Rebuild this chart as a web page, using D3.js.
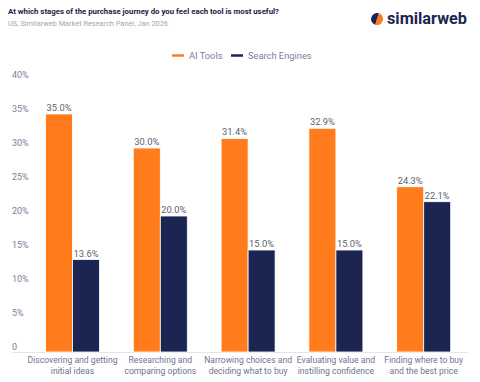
<!DOCTYPE html>
<html>
<head>
<meta charset="utf-8">
<script src="https://cdn.jsdelivr.net/npm/d3@7"></script>
<style>
  body { margin: 0; background: #fff; }
  text { font-family: Roboto, "Noto Sans", sans-serif; }
</style>
</head>
<body>
<div class="chart"></div>
<script>
var stages = [
  ["Discovering and getting", "initial ideas"],
  ["Researching and", "comparing options"],
  ["Narrowing choices and", "deciding what to buy"],
  ["Evaluating value and", "instilling confidence"],
  ["Finding where to buy", "and the best price"]
];
var seriesNames = ["AI Tools", "Search Engines"];
var aiTools = [35.0, 30.0, 31.4, 32.9, 24.3];
var searchEngines = [13.6, 20.0, 15.0, 15.0, 22.1];
var yTicks = [0, 5, 10, 15, 20, 25, 30, 35, 40];

var colors = ["#ff7b1c", "#1c2452"];
var svgWidth = 480;
var svgHeight = 382;

var svg = d3.select(".chart")
  .append("svg")
  .attr("width", svgWidth)
  .attr("height", svgHeight);

// header
svg.append("text")
  .attr("x", 8).attr("y", 14)
  .attr("font-size", 7.5)
  .attr("font-weight", 700)
  .attr("fill", "#1c2140")
  .attr("textLength", 271)
  .attr("lengthAdjust", "spacingAndGlyphs")
  .text("At which stages of the purchase journey do you feel each tool is most useful?");

svg.append("text")
  .attr("x", 8).attr("y", 26)
  .attr("font-size", 7.5)
  .attr("fill", "#a3a6b4")
  .attr("textLength", 160)
  .attr("lengthAdjust", "spacingAndGlyphs")
  .text("US, Similarweb Market Research Panel, Jan 2026");

// logo
var logo = svg.append("g").attr("transform", "translate(377, 19)");
logo.append("path")
  .attr("d", d3.arc()({innerRadius: 0, outerRadius: 6, startAngle: Math.PI * 0.1, endAngle: Math.PI * 1.1}))
  .attr("fill", colors[0]);
logo.append("path")
  .attr("d", d3.arc()({innerRadius: 0, outerRadius: 6, startAngle: Math.PI * 1.1, endAngle: Math.PI * 2.1}))
  .attr("fill", colors[1]);
logo.append("text")
  .attr("x", 10).attr("y", 5)
  .attr("font-size", 16)
  .attr("font-weight", 700)
  .attr("fill", "#1c2452")
  .attr("textLength", 80)
  .attr("lengthAdjust", "spacingAndGlyphs")
  .text("similarweb");

// legend
var legendX = [172, 231];
seriesNames.forEach(function(name, i) {
  svg.append("line")
    .attr("x1", legendX[i]).attr("x2", legendX[i] + 12)
    .attr("y1", 55.5).attr("y2", 55.5)
    .attr("stroke", colors[i])
    .attr("stroke-width", 2.5);
  svg.append("text")
    .attr("x", legendX[i] + 17).attr("y", 59)
    .attr("font-size", 9.3)
    .attr("fill", "#7a7e98")
    .text(name);
});

// scales
var x0 = d3.scaleBand()
  .domain(d3.range(stages.length))
  .range([28.6, 467.6])
  .paddingInner(0.385)
  .paddingOuter(0.1925);

var x1 = d3.scaleBand()
  .domain([0, 1])
  .range([0, x0.bandwidth()]);

var y = d3.scaleLinear()
  .domain([0, 40])
  .range([352, 80]);

// y tick labels
svg.selectAll(".ytick")
  .data(yTicks)
  .enter()
  .append("text")
  .attr("class", "ytick")
  .attr("x", 12)
  .attr("y", d => y(d) - 2)
  .attr("font-size", 9)
  .attr("fill", "#7a7e98")
  .text(d => d === 0 ? "0" : d + "%");

// baseline
svg.append("line")
  .attr("x1", 12).attr("x2", 468)
  .attr("y1", y(0) + 0.5).attr("y2", y(0) + 0.5)
  .attr("stroke", "#e3e4ea")
  .attr("stroke-width", 1);

// bars
var series = [aiTools, searchEngines];
var groups = svg.selectAll(".group")
  .data(stages)
  .enter()
  .append("g")
  .attr("class", "group")
  .attr("transform", (d, i) => `translate(${x0(i)}, 0)`);

groups.selectAll("rect")
  .data((d, i) => series.map((s, k) => ({k: k, v: s[i]})))
  .enter()
  .append("rect")
  .attr("x", d => x1(d.k))
  .attr("y", d => y(d.v))
  .attr("width", x1.bandwidth())
  .attr("height", d => y(0) - y(d.v))
  .attr("fill", d => colors[d.k])
  .attr("stroke", "#fff")
  .attr("stroke-width", 0.8);

groups.selectAll(".val")
  .data((d, i) => series.map((s, k) => ({k: k, v: s[i]})))
  .enter()
  .append("text")
  .attr("class", "val")
  .attr("x", d => x1(d.k) + x1.bandwidth() / 2)
  .attr("y", d => y(d.v) - 3)
  .attr("text-anchor", "middle")
  .attr("font-size", 9.3)
  .attr("fill", "#5c5f6e")
  .text(d => d.v.toFixed(1) + "%");

// category labels
groups.append("text")
  .attr("x", x0.bandwidth() / 2)
  .attr("y", 363)
  .attr("text-anchor", "middle")
  .attr("font-size", 8.6)
  .attr("fill", "#6f7390")
  .selectAll("tspan")
  .data(d => d)
  .enter()
  .append("tspan")
  .attr("x", x0.bandwidth() / 2)
  .attr("dy", (d, i) => i === 0 ? 0 : 10.5)
  .text(d => d);
</script>
</body>
</html>
